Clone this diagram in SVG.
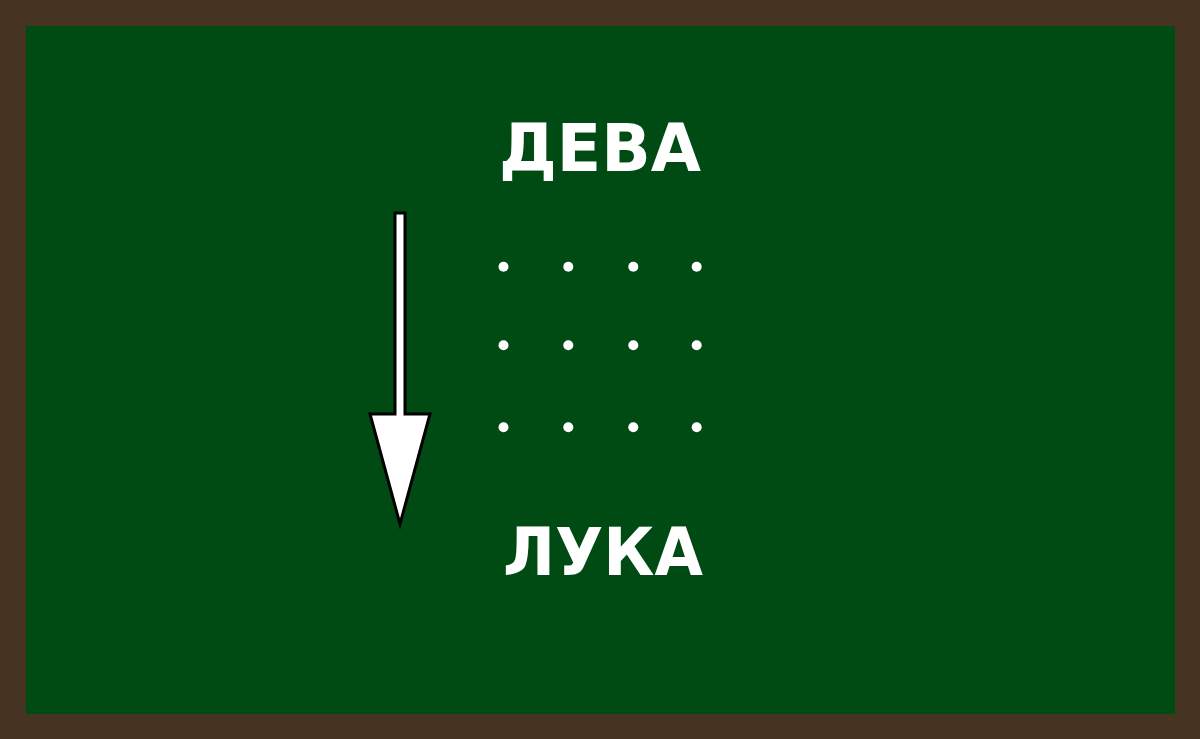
<svg xmlns="http://www.w3.org/2000/svg" width="1200" height="739" viewBox="0 0 1200 739">
<style>
.lbl{font-family:"DejaVu Sans","Liberation Sans",sans-serif;font-weight:bold;font-size:66px;fill:#ffffff}
.dot{fill:#ffffff}
.arr{fill:#ffffff;stroke:#000000;stroke-width:3;stroke-linejoin:miter}
</style>
<rect x="0" y="0" width="1200" height="739" fill="#463321"/>
<rect x="26" y="26" width="1149" height="688" fill="#004b14"/>
<g id="deva"><text class="lbl" x="499" y="171" textLength="202" lengthAdjust="spacingAndGlyphs">ДЕВА</text></g>
<g id="luka"><text class="lbl" x="503" y="575" textLength="200" lengthAdjust="spacingAndGlyphs">ЛУКА</text></g>
<g id="dots">
<circle class="dot" cx="503.5" cy="266.7" r="5"/><circle class="dot" cx="568.3" cy="266.7" r="5"/><circle class="dot" cx="633.3" cy="266.7" r="5"/><circle class="dot" cx="696.7" cy="266.7" r="5"/>
<circle class="dot" cx="503.5" cy="345.3" r="5"/><circle class="dot" cx="568.3" cy="345.3" r="5"/><circle class="dot" cx="633.3" cy="345.3" r="5"/><circle class="dot" cx="696.7" cy="345.3" r="5"/>
<circle class="dot" cx="503.5" cy="427.3" r="5"/><circle class="dot" cx="568.3" cy="427.3" r="5"/><circle class="dot" cx="633.3" cy="427.3" r="5"/><circle class="dot" cx="696.7" cy="427.3" r="5"/>
</g>
<g id="connectors">
<path class="arr" d="M395,213 H405 V414 H430 L400,524 L370,414 H395 Z"/>
</g>
</svg>
